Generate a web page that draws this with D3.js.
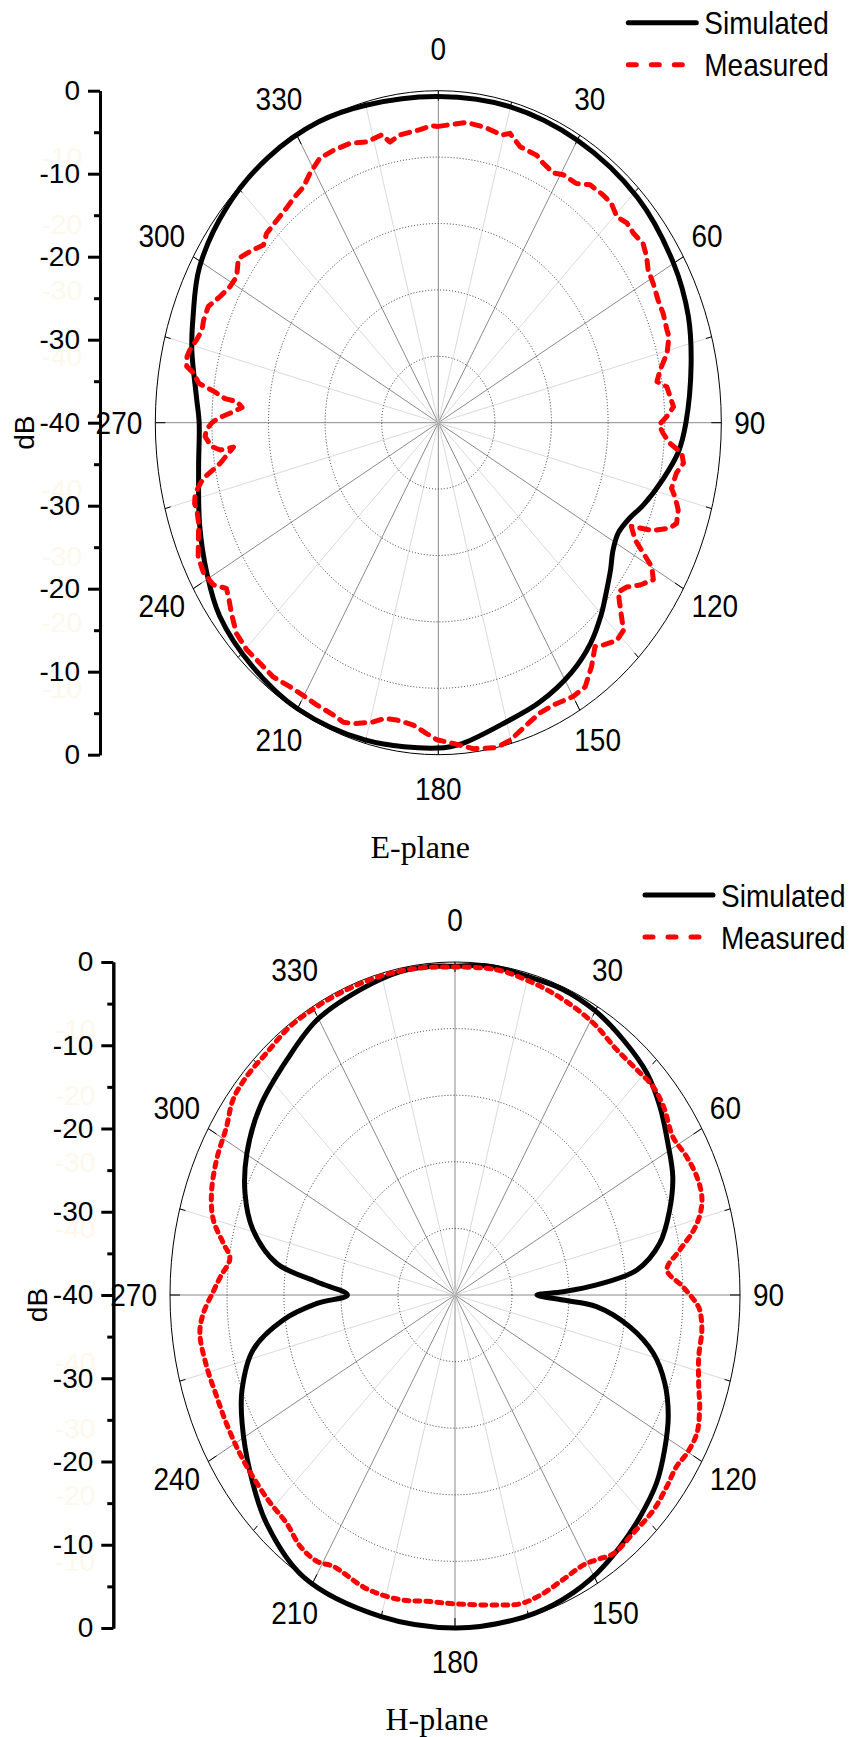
<!DOCTYPE html>
<html>
<head>
<meta charset="utf-8">
<script src="https://cdn.jsdelivr.net/npm/d3@7/dist/d3.min.js"></script>
<style>
  body { margin: 0; background: #fff; }
  svg { display: block; }
</style>
</head>
<body>
<svg id="chart" width="855" height="1737"></svg>
<script>
// E-plane, simulated (angle in deg, gain in dB)
var eSimAngle = [0, 15, 30, 46, 60, 70, 79, 90, 96, 102,
  109, 113, 117.5, 122, 126, 131, 135, 141, 148, 157,
  165, 175, 180, 195, 210, 222, 233, 241, 250, 261,
  270, 275, 284, 290, 299, 311, 323, 335, 345];
var eSimDb = [-0.7, -0.6, -0.7, -0.9, -1.6, -2.4, -3.6, -5.0, -5.9, -7.5,
  -9.4, -10.6, -11.3, -10.9, -9.9, -8.6, -7.4, -5.8, -4.5, -3.4,
  -2.7, -1.2, -0.8, -0.4, -0.2, -0.6, -1.3, -2.6, -4.1, -5.7,
  -6.2, -5.7, -4.1, -3.1, -1.4, -0.4, 0, 0, -0.4];

// E-plane, measured (in trace order)
var eMeaAngle = [0, 6.3, 10.5, 14.5, 16.2, 19.2, 23.3, 25.4, 28.4, 30.6,
  34.1, 36.8, 40.4, 42.8, 45.5, 47.9, 50.4, 53.3, 55.8, 58.2,
  61.1, 64.5, 67.5, 70.9, 72.4, 75.5, 78.5, 80.9, 82.4, 86.7,
  88.7, 90.5, 92.3, 94.3, 96.1, 98, 100.2, 103.5, 104.9, 107.2,
  109.8, 111.2, 113.2, 114.6, 116.9, 118.5, 119.9, 121.9, 124.4, 126.6,
  128.7, 130.3, 133.7, 136.1, 139, 140.6, 143.6, 146.9, 150, 154.5,
  157.7, 161.1, 165.2, 168.1, 172.8, 176.9, 180.3, 182.5, 185.5, 189.3,
  191.9, 194.3, 198.3, 200.4, 202.9, 206.8, 210.2, 213.4, 217.3, 221.9,
  224.7, 228.3, 231.8, 234.8, 236.3, 238.4, 241.3, 244.5, 246.8, 250.2,
  252.9, 254.2, 256.1, 258.6, 259.9, 261, 264.2, 263.9, 264.9, 267.1,
  268.5, 270, 271, 272.2, 273.8, 275.1, 275.5, 276.7, 278, 279.8,
  280.8, 282.6, 284, 286.3, 288.5, 290.4, 293.3, 296.2, 299.1, 301.7,
  305, 307, 309.3, 310.9, 313.2, 316.9, 320.3, 322.9, 326.1, 328.9,
  332.3, 335.7, 339.7, 343.4, 347, 348.6, 351.1, 355.8, 358.4];
var eMeaDb = [-4.3, -3.6, -3.8, -4.2, -3.7, -4.8, -4.9, -5.4, -5.8, -5.3,
  -5.2, -4.2, -4.0, -4.0, -4.6, -4.1, -4.2, -3.9, -4.4, -5.1,
  -5.3, -5.6, -5.6, -5.8, -5.8, -6.6, -8.0, -8.7, -7.4, -6.7,
  -7.7, -8.8, -8.2, -7.2, -5.4, -5.0, -5.8, -6.1, -5.4, -4.5,
  -4.2, -4.9, -7.0, -10.0, -8.8, -7.0, -5.2, -4.2, -5.4, -6.8,
  -7.4, -6.4, -3.8, -3.6, -4.5, -5.1, -3.5, -2.0, -1.9, -2.3,
  -2.2, -1.5, -0.4, 0, -0.4, -1.3, -1.8, -2.5, -3.4, -3.7,
  -3.6, -2.8, -1.8, -1.5, -1.8, -1.9, -2.0, -1.9, -1.5, -1.6,
  -1.5, -1.8, -2.8, -3.7, -4.0, -2.7, -2.2, -2.4, -3.1, -4.0,
  -4.3, -4.2, -4.6, -6.1, -7.7, -8.8, -10.9, -9.0, -7.8, -7.0,
  -7.2, -8.0, -8.9, -10.5, -12.2, -11.4, -9.7, -8.2, -5.8, -4.9,
  -3.8, -3.6, -3.8, -4.4, -4.8, -4.6, -4.6, -5.6, -6.3, -6.5,
  -5.5, -6.1, -6.8, -7.3, -6.7, -6.6, -6.4, -6.1, -5.8, -4.9,
  -4.0, -4.0, -4.1, -4.7, -4.4, -5.5, -4.9, -4.6, -4.2];

// H-plane, simulated
var hSimAngle = [0, 7, 15, 22.5, 30, 37.6, 45.3, 51.8, 58.6, 65.1,
  71.3, 77.8, 83.3, 86.5, 88.5, 90, 92.3, 94, 98.8, 104.1,
  109.8, 116, 122.3, 128.6, 135.7, 142.6, 151, 159.7, 168.2, 180,
  195, 212, 224, 233.4, 242.8, 249.1, 256.9, 262.9, 267, 270,
  274.7, 278.6, 285.4, 292.5, 300.2, 309.6, 320.1, 329.6, 340, 348.8,
  355];
var hSimDb = [-0.5, -0.2, -0.4, -0.3, -0.6, -1.3, -2.1, -3.4, -5.0, -6.3,
  -8.2, -10.6, -14.3, -20.1, -24.8, -28.5, -24.8, -20.1, -15.2, -11.3,
  -8.7, -6.7, -5.2, -3.8, -2.8, -1.9, -0.9, -0.3, -0.1, 0,
  0, 0, -1.9, -4.2, -6.4, -8.0, -10.9, -15.7, -20.6, -24.9,
  -20.5, -14.7, -10.6, -8.1, -6.2, -4.5, -3.2, -1.7, -1.0, -0.4,
  -0.4];

// H-plane, measured
var hMeaAngle = [0, 8.5, 15.6, 23.2, 30.7, 37.6, 43.3, 48, 52.3, 58.2,
  62.9, 67.3, 71.2, 74.1, 76.9, 80.3, 84.2, 88.2, 91.7, 93,
  96.9, 102.2, 107.2, 111.9, 116.1, 120.3, 123.5, 127.8, 132.9, 138.8,
  144.4, 148, 150.9, 156.1, 161.7, 166.2, 171.1, 180, 186.1, 191.9,
  199.4, 207.6, 211.2, 215.7, 220.7, 226, 232.4, 237.8, 244.3, 250,
  256.1, 262.7, 266.4, 270.8, 273.8, 277.9, 280.8, 284.9, 289.7, 295.9,
  302.2, 307, 311.9, 317.7, 324.3, 330.8, 338.2, 345.3, 352.2];
var hMeaDb = [-0.6, -0.5, -0.9, -1.4, -2.0, -2.8, -2.8, -2.6, -3.0, -4.0,
  -3.5, -3.2, -3.4, -4.2, -5.6, -8.0, -10.1, -8.0, -6.1, -5.6,
  -5.1, -5.0, -4.2, -3.0, -2.2, -2.3, -2.7, -2.4, -2.0, -2.0,
  -1.8, -2.5, -2.9, -2.6, -2.0, -1.8, -2.3, -2.9, -3.0, -2.6,
  -2.6, -3.2, -2.6, -2.8, -3.8, -4.0, -4.2, -4.3, -4.4, -4.4,
  -4.1, -3.9, -4.6, -6.1, -7.0, -8.1, -6.9, -4.9, -3.7, -2.8,
  -2.1, -1.0, -0.7, -0.7, -0.3, -0.3, -0.3, -0.3, -0.4];

var angleTicks = [0, 30, 60, 90, 120, 150, 180, 210, 240, 270, 300, 330];
var dbTicks = [0, -10, -20, -30, -40];
var dbMinor = [-5, -15, -25, -35];
var ringValues = [-32, -24, -16, -8];
var ghostLabels = ['-40', '-30', '-20', '-10'];
var seriesNames = ['Simulated', 'Measured'];

var sans = 'Liberation Sans, Arial, sans-serif';
var svg = d3.select('#chart');

function drawPolar(opt) {
  var g = svg.append('g');
  var cx = opt.cx, cy = opt.cy, rx = opt.rx, ry = opt.ry;
  var rad = Math.PI / 180;

  var rScale = d3.scaleLinear().domain([-40, 0]).range([0, 1]);
  var xScale = d3.scaleLinear().domain([-1, 1]).range([cx - rx, cx + rx]);
  var yScale = d3.scaleLinear().domain([-1, 1]).range([cy + ry, cy - ry]);

  function px(a, f) { return xScale(f * Math.sin(a * rad)); }
  function py(a, f) { return yScale(f * Math.cos(a * rad)); }

  // faint leftover labels beside the axis (drawn first, under everything)
  ringValues.forEach(function (v, i) {
    [1, -1].forEach(function (sgn) {
      g.append('text')
        .attr('x', opt.axisX - 18)
        .attr('y', yScale(sgn * rScale(v)))
        .attr('dy', '0.36em')
        .attr('text-anchor', 'end')
        .attr('font-family', sans)
        .attr('font-size', 28)
        .attr('fill', '#fef8ec')
        .text(ghostLabels[i]);
    });
  });

  // spokes every 15 deg
  var spokes = d3.range(0, 360, 15);
  g.selectAll('.spoke')
    .data(spokes)
    .enter()
    .append('line')
    .attr('x1', cx).attr('y1', cy)
    .attr('x2', function (d) { return px(d, 1); })
    .attr('y2', function (d) { return py(d, 1); })
    .attr('stroke', function (d) { return d % 30 === 0 ? '#8a8a8a' : '#dadada'; })
    .attr('stroke-width', 1);

  // dotted rings
  g.selectAll('.ring')
    .data(ringValues)
    .enter()
    .append('ellipse')
    .attr('cx', cx).attr('cy', cy)
    .attr('rx', function (d) { return xScale(rScale(d)) - cx; })
    .attr('ry', function (d) { return cy - yScale(rScale(d)); })
    .attr('fill', 'none')
    .attr('stroke', '#333')
    .attr('stroke-width', 1)
    .attr('stroke-dasharray', '1,2');

  // outer ellipse
  g.append('ellipse')
    .attr('cx', cx).attr('cy', cy).attr('rx', rx).attr('ry', ry)
    .attr('fill', 'none').attr('stroke', '#000').attr('stroke-width', 1);

  // inward ticks on the outer ellipse
  function tickEnd(d, k) {
    var len = d % 30 === 0 ? 10 : 6;
    var dx = px(d, 1) - cx, dy = py(d, 1) - cy, n = Math.sqrt(dx * dx + dy * dy);
    return k === 'x' ? px(d, 1) - len * dx / n : py(d, 1) - len * dy / n;
  }
  g.selectAll('.otick')
    .data(spokes)
    .enter()
    .append('line')
    .attr('x1', function (d) { return px(d, 1); })
    .attr('y1', function (d) { return py(d, 1); })
    .attr('x2', function (d) { return tickEnd(d, 'x'); })
    .attr('y2', function (d) { return tickEnd(d, 'y'); })
    .attr('stroke', '#000').attr('stroke-width', 1);

  // angle labels
  g.selectAll('.alabel')
    .data(angleTicks)
    .enter()
    .append('text')
    .attr('transform', function (d) {
      var s = Math.sin(d * rad), c = Math.cos(d * rad);
      if (Math.abs(s) < 1e-6) s = 0;
      if (Math.abs(c) < 1e-6) c = 0;
      var x = cx + (rx + 37) * s + (s > 0 ? -24 : (s < 0 ? 24 : 0));
      var y = cy - (ry + (c > 0 ? 42 : 34)) * c;
      return 'translate(' + x + ',' + y + ') scale(1,1.1)';
    })
    .attr('text-anchor', function (d) {
      var s = Math.sin(d * rad);
      if (Math.abs(s) < 1e-6) return 'middle';
      return s > 0 ? 'start' : 'end';
    })
    .attr('dy', '0.36em')
    .attr('font-family', sans)
    .attr('font-size', 28)
    .attr('fill', '#000')
    .text(function (d) { return d; });

  // series
  var line = d3.line()
    .x(function (d) { return px(d[0], rScale(d[1])); })
    .y(function (d) { return py(d[0], rScale(d[1])); });

  var simPts = opt.simAngle.map(function (a, i) { return [a, opt.simDb[i]]; });
  var meaPts = opt.meaAngle.map(function (a, i) { return [a, opt.meaDb[i]]; });

  g.append('path')
    .attr('d', line.curve(d3.curveCatmullRomClosed.alpha(0.5))(simPts))
    .attr('fill', 'none').attr('stroke', '#000').attr('stroke-width', 5);

  g.append('path')
    .attr('d', line.curve(opt.meaCurve)(meaPts))
    .attr('fill', 'none').attr('stroke', '#ff0000').attr('stroke-width', 5)
    .attr('stroke-linecap', 'round').attr('stroke-linejoin', 'round')
    .attr('stroke-dasharray', opt.meaDash);

  // left dB axis (two halves)
  var yTop = d3.scaleLinear().domain([0, -40]).range([cy - ry, cy]);
  var yBot = d3.scaleLinear().domain([-40, 0]).range([cy, cy + ry]);
  var fmt = function (d) { return String(d); };
  var blank = function () { return ''; };

  var ax = g.append('g').attr('transform', 'translate(' + opt.axisX + ',0)');
  ax.append('g').call(d3.axisLeft(yTop).tickValues(dbTicks).tickSize(12).tickSizeOuter(0).tickPadding(8).tickFormat(fmt));
  ax.append('g').call(d3.axisLeft(yBot).tickValues(dbTicks.filter(function (d) { return d !== -40; }))
    .tickSize(12).tickSizeOuter(0).tickPadding(8).tickFormat(fmt));
  ax.append('g').call(d3.axisLeft(yTop).tickValues(dbMinor).tickSize(6).tickSizeOuter(0).tickFormat(blank));
  ax.append('g').call(d3.axisLeft(yBot).tickValues(dbMinor).tickSize(6).tickSizeOuter(0).tickFormat(blank));
  ax.selectAll('g')
    .attr('font-family', sans)
    .attr('font-size', 28);
  ax.selectAll('path, line').attr('stroke', '#000').attr('stroke-width', 3);
  ax.selectAll('text').attr('fill', '#000');

  g.append('text')
    .attr('transform', 'translate(' + (opt.axisX - 76) + ',' + (cy + 10) + ') rotate(-90)')
    .attr('text-anchor', 'middle')
    .attr('dy', '0.36em')
    .attr('font-family', sans)
    .attr('font-size', 28)
    .text('dB');

  // legend
  var leg = g.selectAll('.leg')
    .data(seriesNames)
    .enter()
    .append('g')
    .attr('transform', function (d, i) { return 'translate(' + (cx + 190) + ',' + (cy - 400 + i * 42) + ')'; });
  leg.append('line')
    .attr('x1', 0).attr('x2', 68).attr('y1', 0).attr('y2', 0)
    .attr('stroke', function (d, i) { return i === 0 ? '#000' : '#ff0000'; })
    .attr('stroke-width', 5)
    .attr('stroke-linecap', 'round')
    .attr('stroke-dasharray', function (d, i) { return i === 0 ? null : '8,15'; });
  leg.append('text')
    .attr('transform', 'translate(76,0) scale(1,1.15)')
    .attr('dy', '0.36em')
    .attr('font-family', sans)
    .attr('font-size', 28)
    .text(function (d) { return d; });

  // caption
  g.append('text')
    .attr('x', cx - 18)
    .attr('y', cy + 435)
    .attr('text-anchor', 'middle')
    .attr('font-family', 'Liberation Serif, Times New Roman, serif')
    .attr('font-size', 32)
    .text(opt.caption);
}

drawPolar({
  cx: 438.3, cy: 422.7, rx: 283, ry: 332, axisX: 100, caption: 'E-plane',
  simAngle: eSimAngle, simDb: eSimDb, meaAngle: eMeaAngle, meaDb: eMeaDb,
  meaCurve: d3.curveLinearClosed, meaDash: '9,8'
});

drawPolar({
  cx: 455, cy: 1295, rx: 285, ry: 333, axisX: 113.3, caption: 'H-plane',
  simAngle: hSimAngle, simDb: hSimDb, meaAngle: hMeaAngle, meaDb: hMeaDb,
  meaCurve: d3.curveCatmullRomClosed.alpha(0.5), meaDash: '5,6'
});
</script>
</body>
</html>
